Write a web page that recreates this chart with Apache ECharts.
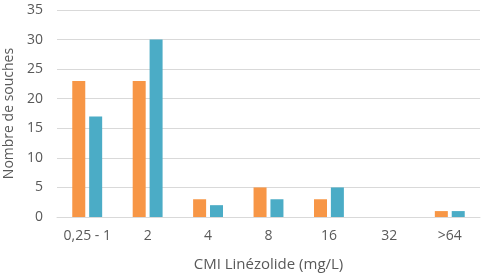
<!DOCTYPE html>
<html>
<head>
<meta charset="utf-8">
<script src="https://cdn.jsdelivr.net/npm/echarts@6/dist/echarts.min.js"></script>
<style>
  html, body { margin: 0; padding: 0; background: #fff; }
  #chart { width: 504px; height: 275px; }
</style>
</head>
<body>
<div id="chart"></div>
<script>
// CMI categories and counts per group
const categories = ['0,25 - 1', '2', '4', '8', '16', '32', '>64'];
const orangeCounts = [23, 23, 3, 5, 3, 0, 1];
const blueCounts = [17, 30, 2, 3, 5, 0, 1];

const chart = echarts.init(document.getElementById('chart'));
const font = 'Open Sans';

chart.setOption({
  animation: false,
  grid: { left: 57, right: 24, top: 10, bottom: 58, outerBoundsMode: 'none' },
  xAxis: {
    type: 'category',
    data: categories,
    name: 'CMI Linézolide (mg/L)',
    nameLocation: 'middle',
    nameGap: 40,
    nameTextStyle: { color: '#595959', fontSize: 15, fontFamily: font },
    axisLine: { lineStyle: { color: '#D9D9D9' } },
    axisTick: { show: false },
    axisLabel: { color: '#595959', fontSize: 14, fontFamily: font, margin: 12, interval: 0 }
  },
  yAxis: {
    type: 'value',
    min: 0,
    max: 35,
    interval: 5,
    name: 'Nombre de souches',
    nameLocation: 'middle',
    nameGap: 40,
    nameTextStyle: { color: '#595959', fontSize: 14, fontFamily: font },
    axisLine: { show: false },
    axisTick: { show: false },
    splitLine: { lineStyle: { color: '#D9D9D9' } },
    axisLabel: { color: '#595959', fontSize: 14, fontFamily: font, margin: 14 }
  },
  series: [
    {
      type: 'bar',
      data: orangeCounts,
      barWidth: 13,
      barGap: '30%',
      itemStyle: { color: '#F79646' }
    },
    {
      type: 'bar',
      data: blueCounts,
      barWidth: 13,
      itemStyle: { color: '#4BACC6' }
    }
  ]
});
</script>
</body>
</html>
